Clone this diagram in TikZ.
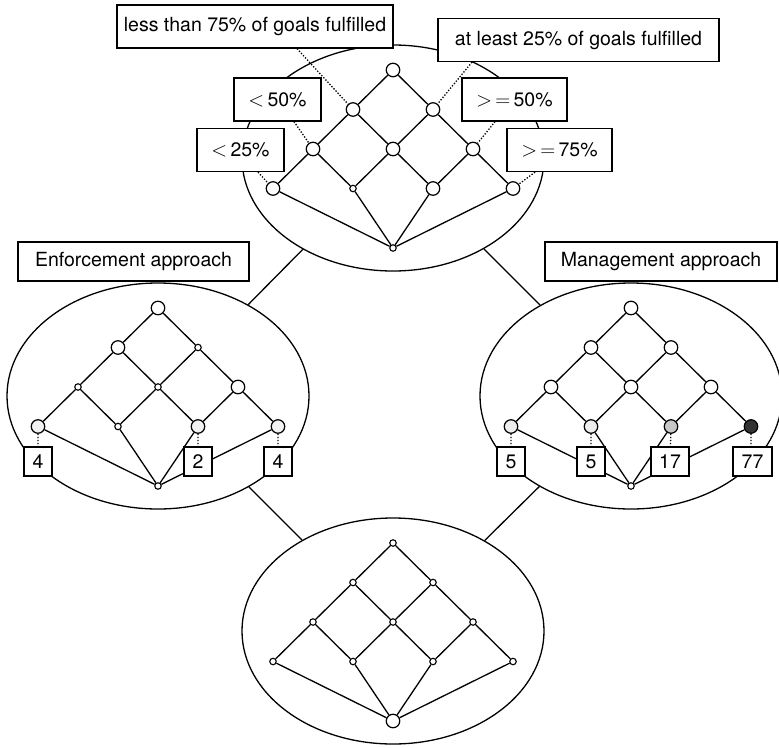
\documentclass[tikz,border=0pt]{standalone}
\usepackage{fontspec}
\setmainfont{TeX Gyre Heros}
\usetikzlibrary{shapes.geometric}

% all sixteen covering edges of the lattice whose nodes carry prefix #1
\newcommand\latedges[1]{%
  \draw[edge] (#1a)--(#1b1) (#1a)--(#1b2)
    (#1b1)--(#1c1) (#1b1)--(#1c2) (#1b2)--(#1c2) (#1b2)--(#1c3)
    (#1c1)--(#1d1) (#1c1)--(#1d2) (#1c2)--(#1d2) (#1c2)--(#1d3)
    (#1c3)--(#1d3) (#1c3)--(#1d4)
    (#1d1)--(#1e) (#1d2)--(#1e) (#1d3)--(#1e) (#1d4)--(#1e);}

\begin{document}
\begin{tikzpicture}[x=1pt,y=-1pt,
  every node/.style={font=\fontsize{19.5}{23}\selectfont},
  ring/.style={ellipse,draw,line width=1.3pt,minimum width=302pt,
    minimum height=226pt,inner sep=0pt},
  big/.style={circle,draw,fill=white,line width=1.2pt,minimum size=13.5pt,inner sep=0pt},
  small/.style={circle,draw,fill=white,line width=1.1pt,minimum size=6.5pt,inner sep=0pt},
  edge/.style={line width=1.3pt},
  dot/.style={line width=1.3pt,dash pattern=on 1.3pt off 1.7pt},
  lbl/.style={draw,fill=white,line width=1.3pt,inner sep=0pt,minimum height=43pt},
  title/.style={draw,fill=white,line width=1.3pt,inner sep=0pt,minimum height=39pt},
  count/.style={draw,fill=white,line width=1.3pt,inner sep=0pt,minimum height=29pt,
    minimum width=28pt},
]
\useasboundingbox (0,0) rectangle (779,747);

% the four contexts
\node[ring] (Etop) at (393,158) {};
\node[ring] (Eleft) at (158,396) {};
\node[ring] (Eright) at (631,396) {};
\node[ring] (Ebot) at (393,631) {};
\draw[edge] (Etop) -- (Eleft) (Etop) -- (Eright)
  (Eleft) -- (Ebot) (Eright) -- (Ebot);

% upper lattice
\begin{scope}[shift={(393,158)}]
  \node[big] (ta) at (0,-88) {};
  \node[big] (tb1) at (-40,-48.5) {}; \node[big] (tb2) at (40,-48.5) {};
  \node[big] (tc1) at (-80,-9) {}; \node[big] (tc2) at (0,-9) {};
  \node[big] (tc3) at (80,-9) {};
  \node[big] (td1) at (-120,30.5) {}; \node[small] (td2) at (-40,30.5) {};
  \node[big] (td3) at (40,30.5) {}; \node[big] (td4) at (120,30.5) {};
  \node[small] (te) at (0,90) {};
\end{scope}
\latedges{t}

% enforcement lattice
\begin{scope}[shift={(158,396)}]
  \node[big] (la) at (0,-88) {};
  \node[big] (lb1) at (-40,-48.5) {}; \node[small] (lb2) at (40,-48.5) {};
  \node[small] (lc1) at (-80,-9) {}; \node[small] (lc2) at (0,-9) {};
  \node[big] (lc3) at (80,-9) {};
  \node[big,fill=black!5] (ld1) at (-120,30.5) {}; \node[small] (ld2) at (-40,30.5) {};
  \node[big,fill=black!5] (ld3) at (40,30.5) {}; \node[big,fill=black!5] (ld4) at (120,30.5) {};
  \node[small] (le) at (0,90) {};
\end{scope}
\latedges{l}

% management lattice
\begin{scope}[shift={(631,396)}]
  \node[big] (ra) at (0,-88) {};
  \node[big] (rb1) at (-40,-48.5) {}; \node[big] (rb2) at (40,-48.5) {};
  \node[big] (rc1) at (-80,-9) {}; \node[big] (rc2) at (0,-9) {};
  \node[big] (rc3) at (80,-9) {};
  \node[big,fill=black!7] (rd1) at (-120,30.5) {}; \node[big,fill=black!7] (rd2) at (-40,30.5) {};
  \node[big,fill=black!22] (rd3) at (40,30.5) {}; \node[big,fill=black!80] (rd4) at (120,30.5) {};
  \node[small] (re) at (0,90) {};
\end{scope}
\latedges{r}

% lower lattice
\begin{scope}[shift={(393,631)}]
  \node[small] (ba) at (0,-88) {};
  \node[small] (bb1) at (-40,-48.5) {}; \node[small] (bb2) at (40,-48.5) {};
  \node[small] (bc1) at (-80,-9) {}; \node[small] (bc2) at (0,-9) {};
  \node[small] (bc3) at (80,-9) {};
  \node[small] (bd1) at (-120,30.5) {}; \node[small] (bd2) at (-40,30.5) {};
  \node[small] (bd3) at (40,30.5) {}; \node[small] (bd4) at (120,30.5) {};
  \node[big] (be) at (0,90) {};
\end{scope}
\latedges{b}

% titles
\node[title,minimum width=231pt] (tEnf) at (133.5,261.5) {Enforcement approach};
\node[title,minimum width=232pt] (tMan) at (661,261.5) {Management approach};

% attribute labels of the upper lattice
\node[lbl,minimum width=276pt] (lt75) at (255,26.5) {less than 75\% of goals fulfilled};
\node[lbl,minimum width=281pt] (ge25) at (578.5,40) {at least 25\% of goals fulfilled};
\node[lbl,minimum width=87pt] (lt50) at (277.5,99.5) {$<$\,50\%};
\node[lbl,minimum width=87pt] (lt25) at (240.5,150) {$<$\,25\%};
\node[lbl,minimum width=105pt] (ge50) at (514.5,99.5) {$>$\,$=$\,50\%};
\node[lbl,minimum width=105pt] (ge75) at (559.5,150) {$>$\,$=$\,75\%};
\draw[dot] ([xshift=42pt]lt75.south) -- (tb1);
\draw[dot] ([xshift=-106.5pt]ge25.south) -- (tb2);
\draw[dot] ([xshift=16.5pt]lt50.south) -- (tc1);
\draw[dot] ([xshift=17.5pt]lt25.south) -- (td1);
\draw[dot] ([xshift=-19.5pt]ge50.south) -- (tc3);
\draw[dot] ([xshift=-24.5pt]ge75.south) -- (td4);

% object counts
\node[count] (nl1) at (38,461.5) {4};
\node[count] (nl3) at (198,461.5) {2};
\node[count] (nl4) at (278,461.5) {4};
\node[count] (nr1) at (511,461.5) {5};
\node[count] (nr2) at (591,461.5) {5};
\node[count,minimum width=38pt] (nr3) at (670,461.5) {17};
\node[count,minimum width=39pt] (nr4) at (752.5,461.5) {77};
\draw[dot] (ld1) -- (nl1) (ld3) -- (nl3) (ld4) -- (nl4)
  (rd1) -- (nr1) (rd2) -- (nr2) (rd3) -- (nr3) (rd4) -- (nr4.north -| rd4.south);
\end{tikzpicture}
\end{document}
